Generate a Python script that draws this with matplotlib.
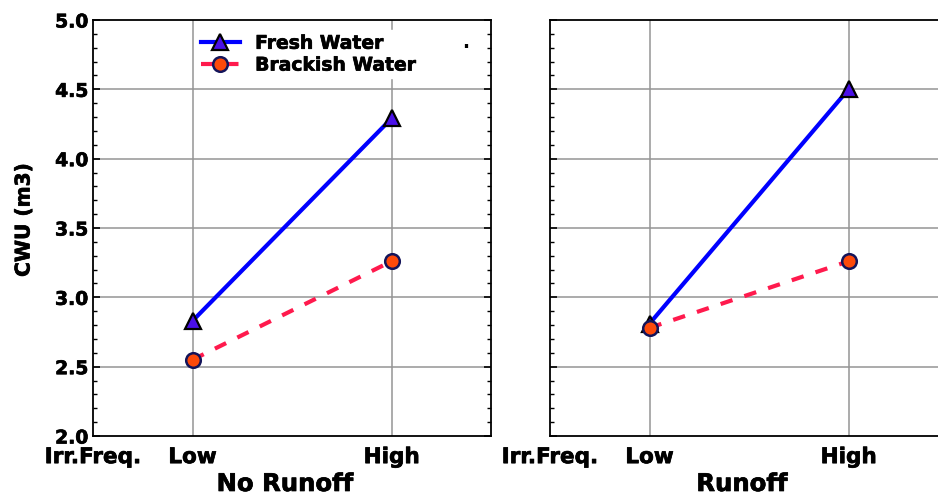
import matplotlib
matplotlib.use('Agg')
import matplotlib.pyplot as plt
import matplotlib.patheffects as pe
from matplotlib.ticker import MultipleLocator

# data
panels = ['No Runoff', 'Runoff']
levels = ['Low', 'High']
fresh = [[2.83, 4.29], [2.81, 4.50]]
brackish = [[2.55, 3.26], [2.78, 3.26]]
xtick_labels = ['Irr.Freq.', 'Low', 'High']

plt.rcParams['font.family'] = 'DejaVu Sans'
plt.rcParams['font.weight'] = 'bold'

heavy = [pe.withStroke(linewidth=0.5, foreground='black')]

fig = plt.figure(figsize=(9.38, 4.97), dpi=100)
W, H = 938, 497
positions = [93, 550]

axes = []
for i, name in enumerate(panels):
    left = positions[i]
    ax = fig.add_axes([left / W, 1 - 436 / H, 398 / W, 416 / H])
    axes.append(ax)
    x = [1, 2]
    ax.plot(x, fresh[i], color='#0000ff', lw=3, marker='^', ms=12,
            mfc='#4a10e8', mec='black', mew=1.6, label='Fresh Water', zorder=3)
    ax.plot(x, brackish[i], color='#ff1a4d', lw=3, ls=(0, (3.0, 3.0)),
            marker='o', ms=10.5, mfc='#ff4a0a', mec='#14145a', mew=1.8,
            label='Brackish Water', zorder=4)

    ax.set_xlim(0.5, 2.5)
    ax.set_ylim(2.0, 5.0)
    ax.set_xticks([0.5, 1, 2])
    ax.set_xticklabels(xtick_labels, fontsize=15.5, fontweight='bold')
    ax.yaxis.set_major_locator(MultipleLocator(0.5))
    ax.yaxis.set_minor_locator(MultipleLocator(0.1))
    ax.tick_params(axis='y', which='major', direction='in', length=5, width=1.2,
                   left=True, right=True, labelsize=13.5)
    ax.tick_params(axis='y', which='minor', direction='in', length=3, width=1,
                   left=True, right=True)
    ax.tick_params(axis='x', length=0, pad=8)
    for lab in ax.get_yticklabels() + ax.get_xticklabels():
        lab.set_fontweight('bold')
        lab.set_path_effects(heavy)
    if i == 1:
        ax.set_yticklabels([])

    # grid only at Low / High
    for xv in x:
        ax.axvline(xv, color='#959595', lw=1.1, zorder=0)
    for yv in [2.5, 3.0, 3.5, 4.0, 4.5]:
        ax.axhline(yv, color='#959595', lw=1.1, zorder=0)

    for s in ax.spines.values():
        s.set_linewidth(1.3)
        s.set_color('black')

    ax.set_xlabel(name, fontsize=17.5, fontweight='bold', path_effects=heavy)
    ax.xaxis.set_label_coords(0.482, (436 - 484) / 416)
    ax.xaxis.label.set_va('center')

axes[0].set_ylabel('CWU (m3)', fontsize=14.5, fontweight='bold', path_effects=heavy)
axes[0].yaxis.set_label_coords((24 - 93) / 398, (436 - 220) / 416)
axes[0].yaxis.label.set_va('center')

leg = axes[0].legend(loc='upper left', bbox_to_anchor=((197 - 93) / 398, 1 - 10 / 416),
                     borderaxespad=0, fontsize=13.5, handlelength=2.1, handletextpad=0.8,
                     labelspacing=0.15, borderpad=0.2, frameon=True, fancybox=False,
                     framealpha=1, facecolor='white', edgecolor='white')
leg.set_zorder(5)
for t in leg.get_texts():
    t.set_fontweight('bold')
    t.set_path_effects(heavy)
axes[0].text(2.37, 4.80, '.', fontsize=13.5, fontweight='bold', ha='center',
             va='baseline', zorder=6)

fig.savefig('out.png', dpi=100)
